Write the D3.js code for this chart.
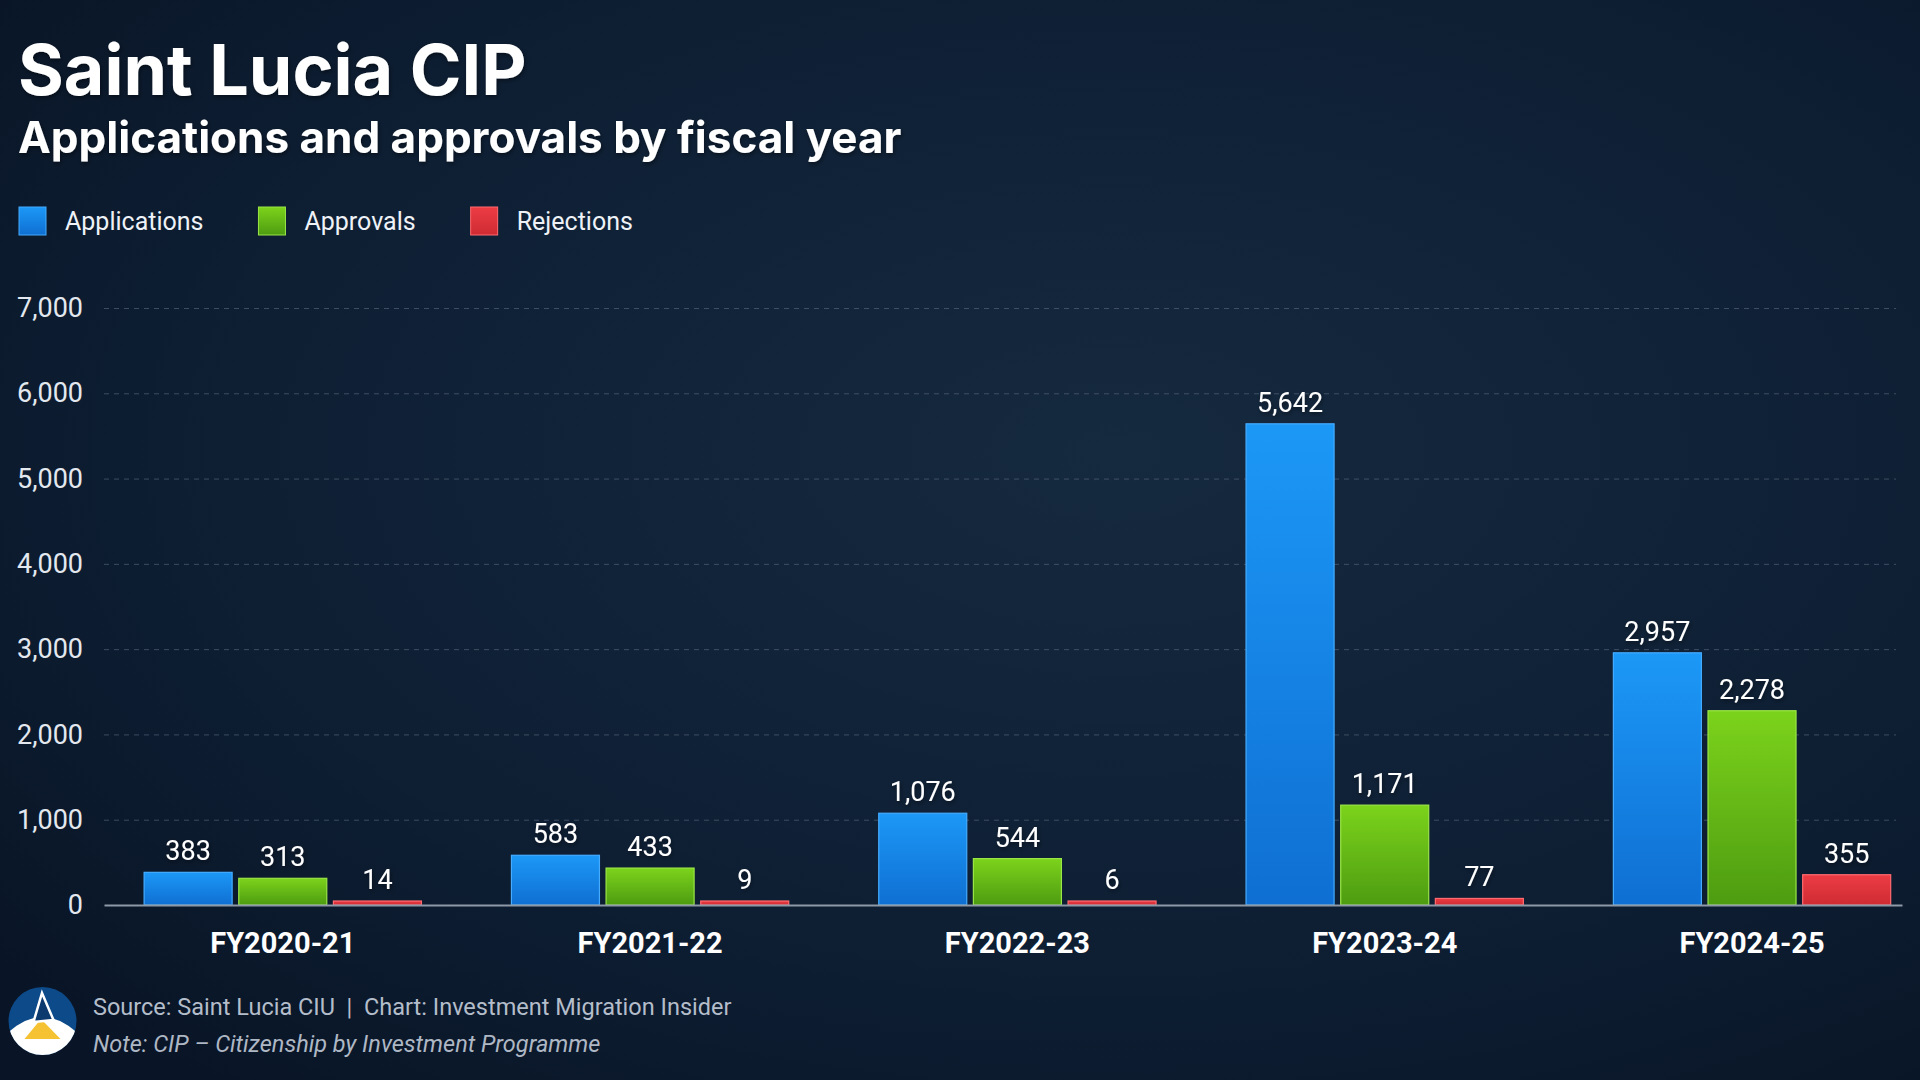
<!DOCTYPE html>
<html>
<head>
<meta charset="utf-8">
<script src="https://cdn.jsdelivr.net/npm/d3@7"></script>
<style>
  html, body { margin: 0; padding: 0; background: #0b1829; }
  #chart { width: 1920px; height: 1080px; }
</style>
</head>
<body>
<div id="chart"></div>
<script>
// Data
const fiscalYears = ["FY2020-21", "FY2021-22", "FY2022-23", "FY2023-24", "FY2024-25"];
const seriesNames = ["Applications", "Approvals", "Rejections"];
const applications = [383, 583, 1076, 5642, 2957];
const approvals = [313, 433, 544, 1171, 2278];
const rejections = [14, 9, 6, 77, 355];
const yTicks = [0, 1000, 2000, 3000, 4000, 5000, 6000, 7000];

const seriesValues = { Applications: applications, Approvals: approvals, Rejections: rejections };
const colors = {
    Applications: { top: "#1c98f7", bottom: "#0f6fd2", stroke: "#45acff" },
    Approvals: { top: "#7cd31b", bottom: "#4d9c11", stroke: "#9ae647" },
    Rejections: { top: "#ec3c44", bottom: "#cf2b33", stroke: "#ff6a70" }
};

// Set dimensions
const W = 1920, H = 1080;
const margin = { top: 308, right: 18, bottom: 175, left: 104 };
const width = W - margin.left - margin.right;
const height = H - margin.top - margin.bottom;

const root = d3.select("#chart")
    .append("svg")
    .attr("width", W)
    .attr("height", H);

const defs = root.append("defs");

// Background
const bg = defs.append("radialGradient")
    .attr("id", "bg")
    .attr("cx", "58%").attr("cy", "42%").attr("r", "75%");
bg.append("stop").attr("offset", "0%").attr("stop-color", "#15293f");
bg.append("stop").attr("offset", "60%").attr("stop-color", "#0e1f34");
bg.append("stop").attr("offset", "100%").attr("stop-color", "#091526");

root.append("rect").attr("width", W).attr("height", H).attr("fill", "url(#bg)");

seriesNames.forEach(s => {
    const g = defs.append("linearGradient")
        .attr("id", "grad-" + s)
        .attr("x1", 0).attr("y1", 0).attr("x2", 0).attr("y2", 1);
    g.append("stop").attr("offset", "0%").attr("stop-color", colors[s].top);
    g.append("stop").attr("offset", "100%").attr("stop-color", colors[s].bottom);
});

const shadow = defs.append("filter").attr("id", "shadow")
    .attr("x", "-10%").attr("y", "-20%").attr("width", "130%").attr("height", "150%");
shadow.append("feDropShadow")
    .attr("dx", 1).attr("dy", 2).attr("stdDeviation", 2)
    .attr("flood-color", "#000").attr("flood-opacity", 0.45);

// Titles
root.append("text")
    .attr("x", 18).attr("y", 95)
    .style("font-family", "Inter, 'Noto Sans', sans-serif")
    .style("font-weight", 700)
    .style("font-size", "70px")
    .attr("fill", "#ffffff")
    .attr("filter", "url(#shadow)")
    .text("Saint Lucia CIP");

root.append("text")
    .attr("x", 18).attr("y", 153)
    .style("font-family", "Inter, 'Noto Sans', sans-serif")
    .style("font-weight", 700)
    .style("font-size", "44px")
    .attr("fill", "#ffffff")
    .attr("filter", "url(#shadow)")
    .text("Applications and approvals by fiscal year");

// Legend
const legend = root.append("g").attr("transform", "translate(19,207)");
let lx = 0;
seriesNames.forEach(s => {
    const item = legend.append("g").attr("transform", `translate(${lx},0)`);
    item.append("rect")
        .attr("width", 27).attr("height", 28)
        .attr("fill", `url(#grad-${s})`)
        .attr("stroke", colors[s].stroke).attr("stroke-width", 1);
    const t = item.append("text")
        .attr("x", 46).attr("y", 23)
        .style("font-family", "Roboto, sans-serif")
        .style("font-size", "25px")
        .attr("fill", "#eef2f7")
        .text(s);
    lx += 46 + t.node().getComputedTextLength() + 55;
});

const svg = root.append("g")
    .attr("transform", `translate(${margin.left},${margin.top})`);

// X scales
const x0 = d3.scaleBand()
    .domain(fiscalYears)
    .range([0, width])
    .paddingInner(0.245)
    .paddingOuter(0.07)
    .align(0.78);

const x1 = d3.scaleBand()
    .domain(seriesNames)
    .range([0, x0.bandwidth()])
    .paddingInner(0.07);

// Y scale
const y = d3.scaleLinear()
    .domain([0, 7000])
    .range([height, 0]);

// Gridlines
const grid = svg.append("g")
    .call(d3.axisLeft(y).tickValues(yTicks.filter(d => d > 0)).tickSize(-(width - 6)).tickFormat(""));
grid.select(".domain").remove();
grid.selectAll("line")
    .attr("stroke", "#5d6d80")
    .attr("stroke-opacity", 0.6)
    .attr("stroke-dasharray", "5,5");

// Y axis labels
const yAxis = svg.append("g")
    .call(d3.axisLeft(y).tickValues(yTicks).tickFormat(d3.format(",")).tickSize(0).tickPadding(21));
yAxis.select(".domain").remove();
yAxis.selectAll("text")
    .style("font-family", "Roboto, sans-serif")
    .style("font-size", "27px")
    .attr("fill", "#e3e8ef");

// Bars
const rows = fiscalYears.map((fy, i) => ({ fy, values: seriesNames.map(s => ({ s, v: seriesValues[s][i] })) }));

const groups = svg.selectAll(".group")
    .data(rows)
    .enter()
    .append("g")
    .attr("class", "group")
    .attr("transform", d => `translate(${x0(d.fy)},0)`);

// tiny values still get a visible sliver
const barTop = d => Math.min(y(d.v), height - 4);

groups.selectAll("rect")
    .data(d => d.values)
    .enter()
    .append("rect")
    .attr("x", d => x1(d.s))
    .attr("y", d => barTop(d))
    .attr("width", x1.bandwidth())
    .attr("height", d => height - barTop(d))
    .attr("fill", d => `url(#grad-${d.s})`)
    .attr("stroke", d => colors[d.s].stroke)
    .attr("stroke-width", 1.2);

groups.selectAll(".val")
    .data(d => d.values)
    .enter()
    .append("text")
    .attr("class", "val")
    .attr("x", d => x1(d.s) + x1.bandwidth() / 2)
    .attr("y", d => barTop(d) - 12)
    .attr("text-anchor", "middle")
    .style("font-family", "Roboto, sans-serif")
    .style("font-size", "27px")
    .attr("fill", "#ffffff")
    .attr("filter", "url(#shadow)")
    .text(d => d3.format(",")(d.v));

// X axis
const xAxis = svg.append("g")
    .attr("transform", `translate(0,${height})`)
    .call(d3.axisBottom(x0).tickSize(0).tickSizeOuter(0).tickPadding(27));
xAxis.select(".domain")
    .attr("stroke", "#8e99a8")
    .attr("stroke-width", 2);
xAxis.selectAll("text")
    .style("font-family", "Roboto, sans-serif")
    .style("font-weight", 700)
    .style("font-size", "29px")
    .attr("fill", "#ffffff");

// Footer logo
const logo = root.append("g").attr("transform", "translate(42.5,1021)");
defs.append("clipPath").attr("id", "logoClip")
    .append("circle").attr("r", 34);
logo.append("circle").attr("r", 34).attr("fill", "#0d4a8a");
const lg = logo.append("g").attr("clip-path", "url(#logoClip)");
lg.append("path").attr("d", "M-36,13 Q0,-21 36,13 L36,40 L-36,40 Z").attr("fill", "#ffffff");
lg.append("path").attr("d", "M-1.5,-2 L18,18 L-18,18 Z").attr("fill", "#f4c232");
lg.append("path").attr("d", "M-0.5,-28 L11,-1 L-9,1 Z")
    .attr("fill", "#0d3a6e").attr("stroke", "#ffffff").attr("stroke-width", 2.5)
    .attr("stroke-linejoin", "miter");

// Footer text
root.append("text")
    .attr("x", 93).attr("y", 1015)
    .style("font-family", "Roboto, sans-serif")
    .style("font-size", "23.5px")
    .attr("fill", "#b4bdca")
    .attr("xml:space", "preserve")
    .text("Source: Saint Lucia CIU  |  Chart: Investment Migration Insider");

root.append("text")
    .attr("x", 93).attr("y", 1052)
    .style("font-family", "Roboto, sans-serif")
    .style("font-style", "italic")
    .style("font-size", "23.5px")
    .attr("fill", "#aeb7c4")
    .text("Note: CIP \u2013 Citizenship by Investment Programme");
</script>
</body>
</html>
